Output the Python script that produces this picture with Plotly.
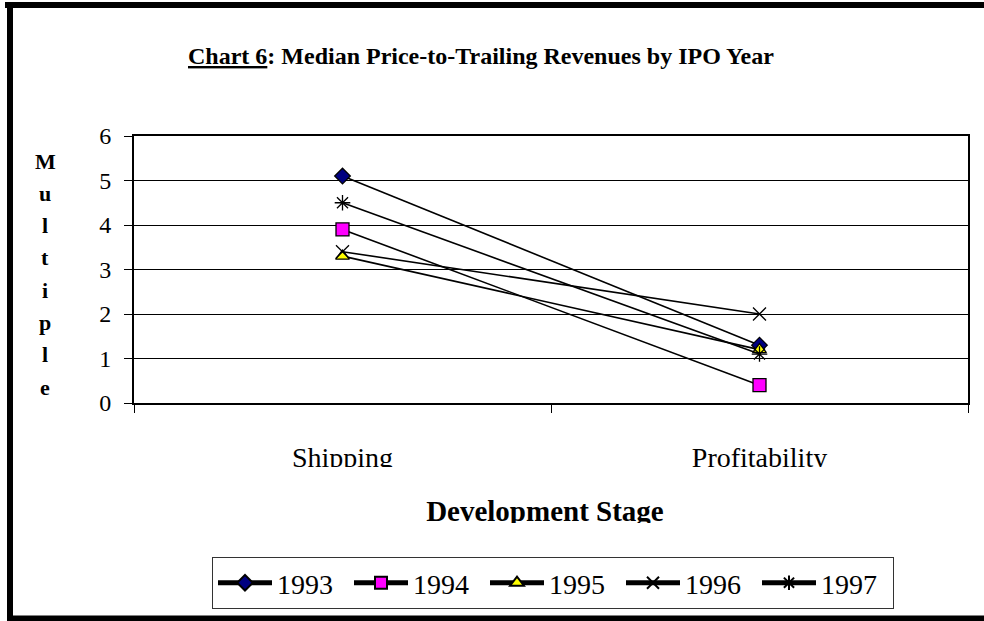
import plotly.graph_objects as go

categories = ["Shipping", "Profitability"]
years = ["1993", "1994", "1995", "1996", "1997"]
values_1993 = [5.1, 1.3]
values_1994 = [3.9, 0.4]
values_1995 = [3.3, 1.2]
values_1996 = [3.4, 2.0]
values_1997 = [4.5, 1.1]
y_ticks = [0, 1, 2, 3, 4, 5, 6]
x_title = "Development Stage"
y_title = "Multiple"

series = [values_1993, values_1994, values_1995, values_1996, values_1997]
symbols = ["diamond", "square", "triangle-up", "x-thin-open", "asterisk-open"]
fills = ["#000080", "#FF00FF", "#FFFF00", "#000000", "#000000"]
sizes = [12, 13, 12, 13, 13]

FONT = "Liberation Serif"

fig = go.Figure()
for name, vals, sym, col, sz in zip(years, series, symbols, fills, sizes):
    fig.add_trace(go.Scatter(
        x=categories, y=vals, name=name, mode="lines+markers",
        line=dict(color="black", width=1.6),
        marker=dict(symbol=sym, size=sz, color=col,
                    line=dict(color="black", width=1.3)),
    ))

L, R, T, B = 134, 16, 136, 218
W, H = 984, 621
pw, ph = W - L - R, H - T - B

def px_x(x):
    return (x - L) / pw

def px_y(y):
    return (H - B - y) / ph

fig.update_layout(
    width=W, height=H,
    margin=dict(l=L, r=R, t=T, b=B, autoexpand=False),
    paper_bgcolor="white", plot_bgcolor="white",
    font=dict(family=FONT, color="black", size=22),
    showlegend=True,
    legend=dict(
        orientation="h", xanchor="center", yanchor="top",
        x=px_x(553), y=px_y(557),
        bordercolor="#333333", borderwidth=1,
        font=dict(family=FONT, size=28, color="black"),
        traceorder="normal", itemsizing="constant",
        itemwidth=54, entrywidth=67, entrywidthmode="pixels",
    ),
    xaxis=dict(
        type="category", range=[-0.5, 1.5], tickson="boundaries",
        ticks="outside", ticklen=8, tickcolor="black", tickwidth=1,
        showline=True, linecolor="black", linewidth=2, mirror=True,
        showgrid=False, tickfont=dict(family=FONT, size=28),
        ticklabelstandoff=28, fixedrange=True,
    ),
    yaxis=dict(
        range=[0, 6], tickvals=y_ticks, ticks="outside", ticklen=8,
        tickcolor="black", tickwidth=1,
        showline=True, linecolor="black", linewidth=2, mirror=True,
        showgrid=True, gridcolor="black", gridwidth=1,
        zeroline=False, tickfont=dict(family=FONT, size=24),
        ticklabelstandoff=8, fixedrange=True,
    ),
)

annotations = []
annotations.append(dict(
    text="<b><u>Chart 6</u>: Median Price-to-Trailing Revenues by IPO Year</b>",
    xref="paper", yref="paper", x=px_x(481), y=px_y(56),
    xanchor="center", yanchor="middle", showarrow=False,
    font=dict(family=FONT, size=24, color="black"),
))
# axis title, clipped at the bottom like the original text box
annotations.append(dict(
    text="<b>" + x_title + "</b>",
    xref="paper", yref="paper", x=px_x(545), y=px_y(494),
    xanchor="center", yanchor="top", valign="top", showarrow=False,
    height=28, width=300, borderpad=0,
    font=dict(family=FONT, size=29, color="black"),
))
for i, ch in enumerate(y_title):
    annotations.append(dict(
        text="<b>" + ch + "</b>",
        xref="paper", yref="paper", x=px_x(45), y=px_y(161 + i * 32.3),
        xanchor="center", yanchor="middle", showarrow=False,
        font=dict(family=FONT, size=22, color="black"),
    ))
fig.update_layout(annotations=annotations)

# white band that clips the bottoms of the category labels
clip = dict(type="rect", xref="paper", yref="paper", layer="above",
            line=dict(width=0), fillcolor="white")
fig.add_shape(**clip, x0=px_x(150), x1=px_x(960), y0=px_y(467), y1=px_y(482))

# outer frame (thick black border on left, top, bottom)
frame = dict(type="line", xref="paper", yref="paper", layer="above",
             line=dict(color="black", width=6))
fig.add_shape(**frame, x0=px_x(10), x1=px_x(10), y0=px_y(2), y1=px_y(621))
fig.add_shape(**frame, x0=px_x(5), x1=px_x(990), y0=px_y(5), y1=px_y(5))
fig.add_shape(**frame, x0=px_x(7), x1=px_x(990), y0=px_y(618.5), y1=px_y(618.5))

fig.write_html("out.html", config={"displayModeBar": False},
               post_script="document.body.style.margin='0px';")
